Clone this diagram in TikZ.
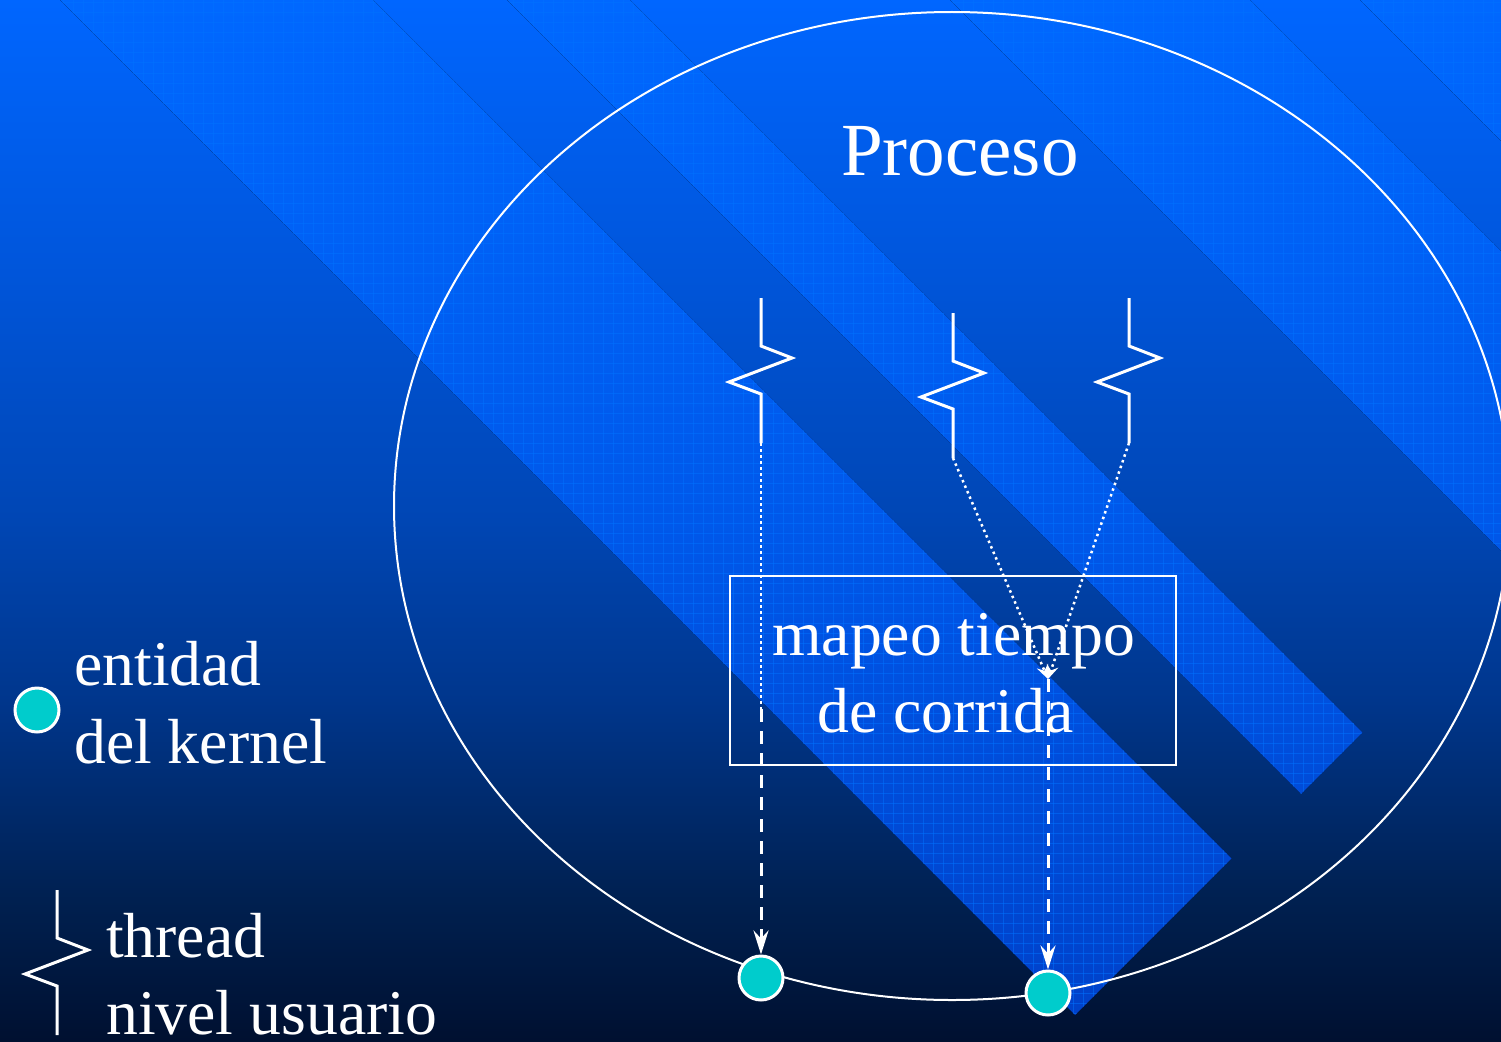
\documentclass[tikz,border=0pt]{standalone}
\usepackage{fontspec}
\setmainfont{Liberation Serif}
\usetikzlibrary{arrows.meta}

\definecolor{kernelfill}{RGB}{0,204,204}
\definecolor{bgA}{RGB}{0,102,255}
\definecolor{bgB}{RGB}{0,86,220}
\definecolor{bgC}{RGB}{0,70,180}
\definecolor{bgD}{RGB}{0,54,140}
\definecolor{bgE}{RGB}{0,32,80}
\definecolor{bgF}{RGB}{0,16,48}
\definecolor{ribA}{RGB}{0,104,255}
\definecolor{ribB}{RGB}{0,88,234}
\definecolor{ribC}{RGB}{0,64,200}
\definecolor{ribGrid}{RGB}{0,114,255}

\tikzset{
  procline/.style={draw=white, line width=2pt},
  threadline/.style={draw=white, line width=3pt},
  dotline/.style={draw=white, line width=2.5pt, dash pattern=on 2.5pt off 3.5pt},
  dashline/.style={draw=white, line width=3pt, dash pattern=on 13pt off 9pt},
  kernel/.style={circle, fill=kernelfill, draw=white, line width=3pt,
                 minimum size=44pt, inner sep=0pt},
  txt/.style={text=white, inner sep=0pt, anchor=base west,
              font=\fontsize{63.7pt}{77pt}\selectfont},
  bigtip/.style={-{Stealth[length=24pt,width=15pt,inset=8pt]}},
  smalltip/.style={-{Stealth[length=14pt,width=12pt,inset=5pt]}},
  gridline/.style={draw=ribGrid, opacity=.5, line width=1pt},
  uthread/.pic={
    \draw[threadline] (0,0) -- (0,48) -- (31,60) -- (-32,84) -- (0,96) -- (0,145);
    \coordinate (-bot) at (0,145);
  }
}

\begin{document}
\begin{tikzpicture}[x=1pt,y=-1pt]
\useasboundingbox (0,0) rectangle (1501,1041);
\clip (0,0) rectangle (1501,1041);

% vertical background gradient
\fill[top color=bgA, bottom color=bgB] (0,-1) rectangle (1501,261);
\fill[top color=bgB, bottom color=bgC] (0,260) rectangle (1501,521);
\fill[top color=bgC, bottom color=bgD] (0,520) rectangle (1501,701);
\fill[top color=bgD, bottom color=bgE] (0,700) rectangle (1501,901);
\fill[top color=bgE, bottom color=bgF] (0,900) rectangle (1501,1042);

% diagonal ribbons with a fine grid
\begin{scope}
  \clip (60,0) -- (1075,1015) -- (1231.5,858.5) -- (373,0) -- cycle
        (507,0) -- (1301,794) -- (1362.5,732.5) -- (630,0) -- cycle
        (950,0) -- (1501,551) -- (1501,251) -- (1250,0) -- cycle
        (1360,0) -- (1501,141) -- (1501,0) -- cycle;
  \fill[top color=ribA, bottom color=ribB] (0,-1) rectangle (1501,521);
  \fill[top color=ribB, bottom color=ribC] (0,520) rectangle (1501,1042);
  \foreach \g in {0,10,...,1500} \draw[gridline] (\g+3,0) -- (\g+3,1041);
  \foreach \g in {0,10,...,1040} \draw[gridline] (0,\g+3) -- (1501,\g+3);
\end{scope}

% process boundary
\draw[procline] (952,506) ellipse [x radius=558, y radius=494];
\node[txt, font=\fontsize{75pt}{90pt}\selectfont] (proc) at (841,175) {Proceso};

% user-level threads
\pic (t1) at (761,298) {uthread};
\pic (t2) at (953,313) {uthread};
\pic (t3) at (1129,298) {uthread};

% run-time mapping box
\node[draw=white, line width=2pt, minimum width=446pt, minimum height=189pt,
      inner sep=0pt] (map) at (953,670.5) {};
\node[txt] (map1) at (772,655) {mapeo tiempo};
\node[txt] (map2) at (817,732) {de corrida};

% kernel entities
\node[kernel] (k1) at (761,978) {};
\node[kernel] (k2) at (1048,993) {};

% mappings
\coordinate (j1) at (761,709);
\coordinate (m) at (1048,679);
\draw[dotline] (t1-bot) -- (j1);
\draw[dashline, bigtip] (j1) -- (k1);
\draw[dotline, smalltip] (t2-bot) -- (m);
\draw[dotline, smalltip] (t3-bot) -- (m);
\draw[dashline, bigtip] (m) -- (k2);

% legend
\node[kernel] (kl) at (37,710) {};
\node[txt] (leg1) at (74,685) {entidad};
\node[txt] (leg2) at (74,763) {del kernel};
\pic (tl) at (57,890) {uthread};
\node[txt] (leg3) at (106,957) {thread};
\node[txt] (leg4) at (106,1034) {nivel usuario};
\end{tikzpicture}
\end{document}
